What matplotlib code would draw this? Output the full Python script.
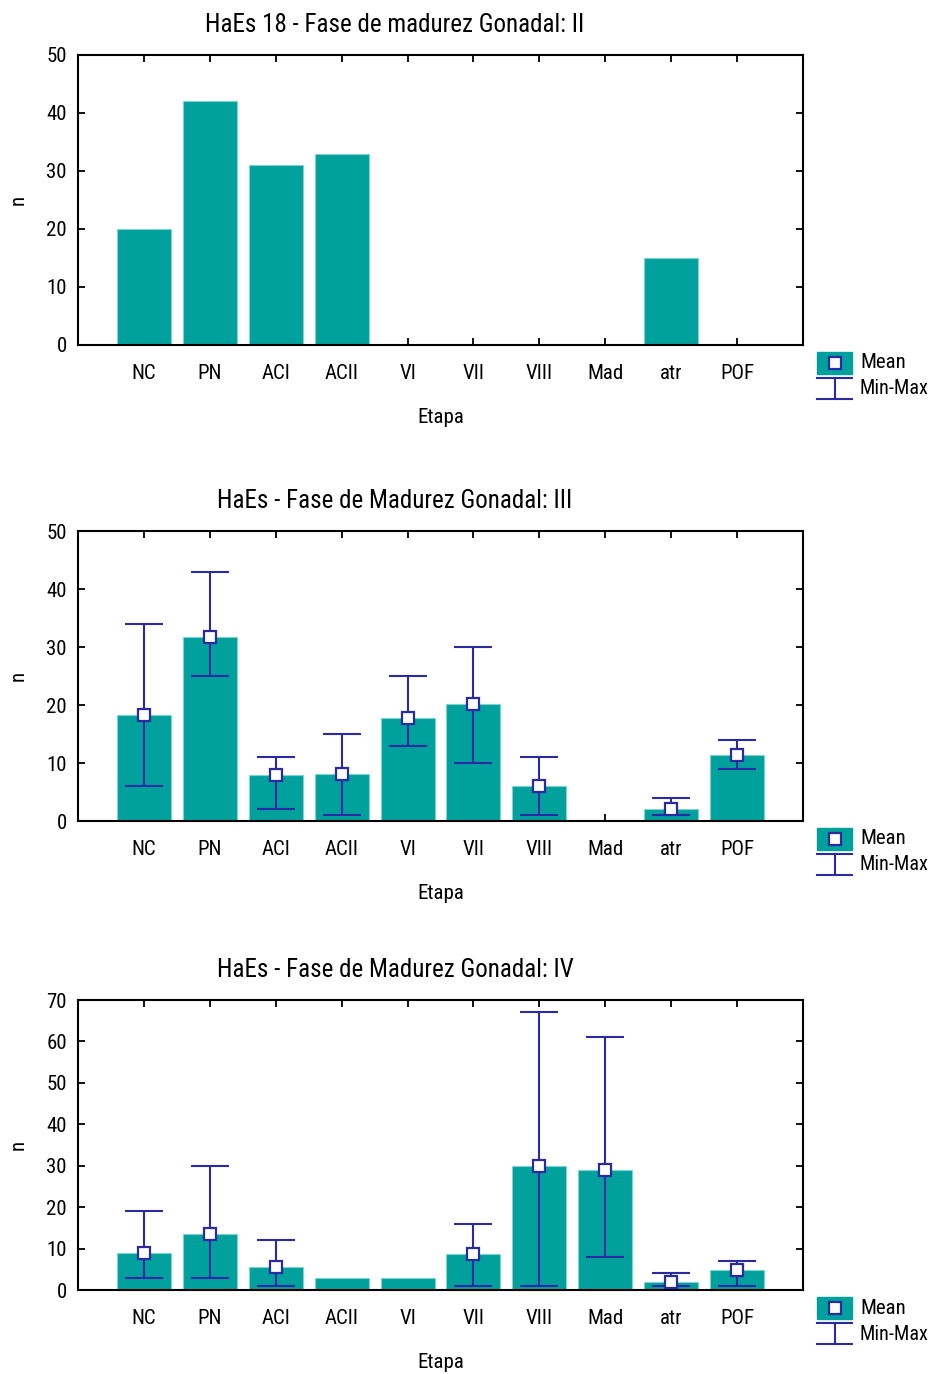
import numpy as np
import matplotlib
matplotlib.use("Agg")
import matplotlib.pyplot as plt
from matplotlib import font_manager
from matplotlib.patches import Rectangle

# fuente estrecha tipo Arial Narrow, si existe
disponibles = {f.name for f in font_manager.fontManager.ttflist}
fuente = 'Liberation Sans'
k = 0.85
for nombre in ['Arial Narrow', 'Liberation Sans Narrow', 'Roboto Condensed',
               'Archivo Narrow', 'PT Sans Narrow']:
    if nombre in disponibles:
        fuente = nombre
        k = 1.0
        break
plt.rcParams['font.family'] = [fuente, 'DejaVu Sans']

# datos
etapas = ['NC', 'PN', 'ACI', 'ACII', 'VI', 'VII', 'VIII', 'Mad', 'atr', 'POF']

n_ii = [20, 42, 31, 33, 0, 0, 0, 0, 15, 0]

mean_iii = [18.3, 31.7, 7.9, 8.1, 17.8, 20.1, 6.0, np.nan, 2.1, 11.4]
min_iii = [6, 25, 2, 1, 13, 10, 1, np.nan, 1, 9]
max_iii = [34, 43, 11, 15, 25, 30, 11, np.nan, 4, 14]

mean_iv = [9.0, 13.6, 5.5, 3.0, 3.0, 8.6, 30.0, 29.0, 2.0, 4.8]
min_iv = [3, 3, 1, np.nan, np.nan, 1, 1, 8, 1, 1]
max_iv = [19, 30, 12, np.nan, np.nan, 16, 67, 61, 4, 7]

titulos = ['HaEs 18 - Fase de madurez Gonadal: II',
           'HaEs - Fase de Madurez Gonadal: III',
           'HaEs - Fase de Madurez Gonadal: IV']
ylims = [50, 50, 70]

teal = '#00A19D'
azul = '#2A2AA4'
W, H = 933, 1374
fs = 15 * k
fs_t = 18 * k

fig = plt.figure(figsize=(W / 100, H / 100), dpi=100)

def panel(bottom_px, title, mean, vmin, vmax, ymax):
    ax = fig.add_axes([78 / W, 1 - bottom_px / H, 725 / W, 290 / H])
    x = np.arange(len(etapas))
    m = np.nan_to_num(np.array(mean, float))
    ax.bar(x, m, width=0.82, color=teal, edgecolor='#7ED3D0', linewidth=0.8, zorder=2)
    if vmin is not None:
        mean_a = np.array(mean, float)
        lo = np.array(vmin, float)
        hi = np.array(vmax, float)
        ok = ~np.isnan(lo)
        ax.errorbar(x[ok], mean_a[ok], yerr=[mean_a[ok] - lo[ok], hi[ok] - mean_a[ok]],
                    fmt='none', ecolor=azul, elinewidth=1.5, capsize=13.5, capthick=1.5, zorder=3)
        ax.plot(x[ok], mean_a[ok], 's', ms=8.5, mfc='white', mec=azul, mew=1.6, zorder=4)
    ax.set_xlim(-1, 10)
    ax.set_ylim(0, ymax)
    ax.set_xticks(x)
    ax.set_xticklabels(etapas)
    ax.set_yticks(np.arange(0, ymax + 1, 10))
    ax.tick_params(direction='in', length=5, width=1.3, top=True, right=True,
                   labelsize=fs, colors='black')
    ax.tick_params(axis='x', pad=13.5)
    ax.tick_params(axis='y', pad=8)
    for s in ax.spines.values():
        s.set_linewidth(1.5)
    ax.set_xlabel('Etapa', fontsize=fs, labelpad=18)
    fig.text(18 / W, 1 - (bottom_px - 145) / H, 'n', rotation=90, fontsize=fs,
             ha='center', va='center')
    fig.text(395 / W, 1 - (bottom_px - 320) / H, title, fontsize=fs_t,
             ha='center', va='center')

    # leyenda
    lax = fig.add_axes([810 / W, 1 - (bottom_px + 62) / H, 123 / W, 62 / H])
    lax.set_xlim(810, 933)
    lax.set_ylim(bottom_px + 62, bottom_px)
    lax.axis('off')
    b = bottom_px
    lax.add_patch(Rectangle((817, b + 7), 35, 22, color=teal))
    lax.plot([835], [b + 18], 's', ms=8.5, mfc='white', mec=azul, mew=1.6)
    lax.plot([817, 852], [b + 32.7, b + 32.7], color=azul, lw=1.5)
    lax.plot([817, 852], [b + 53.7, b + 53.7], color=azul, lw=1.5)
    lax.plot([835, 835], [b + 32.7, b + 53.7], color=azul, lw=1.5)
    lax.text(860, b + 18, 'Mean', fontsize=fs, va='center', ha='left')
    lax.text(860, b + 44, 'Min-Max', fontsize=fs * 0.97, va='center', ha='left')

panel(345, titulos[0], n_ii, None, None, ylims[0])
panel(821, titulos[1], mean_iii, min_iii, max_iii, ylims[1])
panel(1290, titulos[2], mean_iv, min_iv, max_iv, ylims[2])

fig.savefig('out.png', dpi=100)
